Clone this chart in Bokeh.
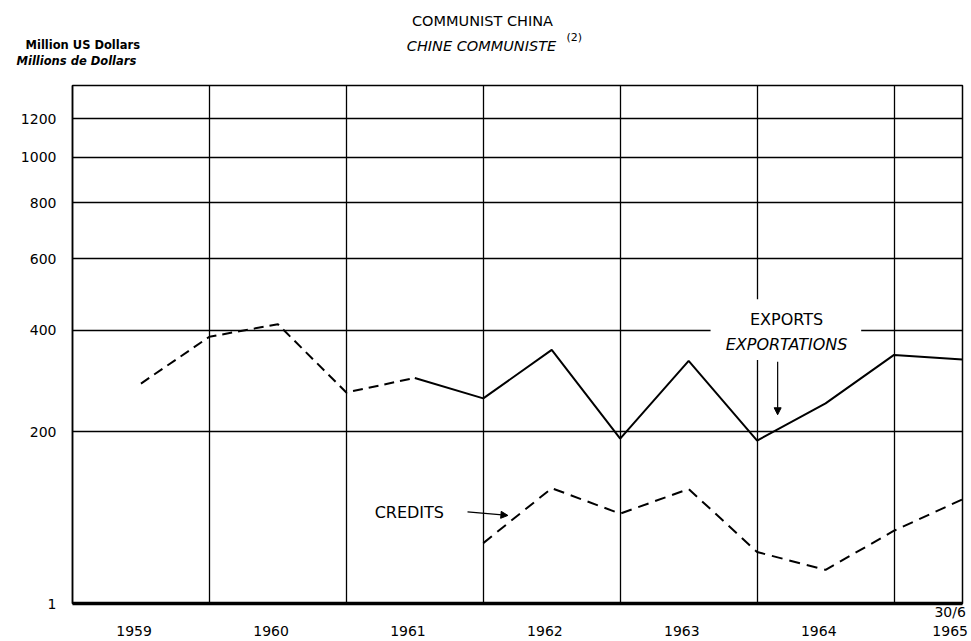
from bokeh.plotting import figure
from bokeh.layouts import column
from bokeh.models import Range1d, FixedTicker, Label, Arrow, NormalHead, BoxAnnotation
from bokeh.embed import file_html
from bokeh.resources import INLINE

OFFSET = 200  # value axis is drawn on log10(value + 200)

x_exports = [1959.5, 1960.0, 1960.5, 1961.0, 1961.5, 1962.0, 1962.5,
             1963.0, 1963.5, 1964.0, 1964.5, 1965.0, 1965.5]
exports = [285, 385, 415, 268, 296, 257, 355, 189, 331, 186, 248, 344, 334]
n_dashed = 5

x_credits = [1962.0, 1962.5, 1963.0, 1963.5, 1964.0, 1964.5, 1965.0, 1965.5]
credits = [56, 119, 88, 118, 47, 30, 69, 105]

y_ticks = [1, 200, 400, 600, 800, 1000, 1200]
year_labels = ["\n1959", "\n1960", "\n1961", "\n1962", "\n1963", "\n1964", "30/6\n1965"]
year_label_pos = [1959.45, 1960.45, 1961.45, 1962.45, 1963.45, 1964.45, 1965.41]
grid_years = [1960, 1961, 1962, 1963, 1964, 1965]

FONT = "DejaVu Sans"
W = 968
HEAD_H = 77
TOTAL_H = 641

# ---------- header (titles) ----------
h = figure(width=W, height=HEAD_H, x_range=Range1d(0, W), y_range=Range1d(HEAD_H, 0),
           output_backend="svg", toolbar_location=None,
           x_axis_location=None, y_axis_location=None,
           min_border_left=0, min_border_right=0, min_border_top=0, min_border_bottom=0)
h.outline_line_color = None
h.grid.visible = False
h.background_fill_color = "white"
h.border_fill_color = "white"

def hlabel(x, y, text, size, style="normal", align="left"):
    h.add_layout(Label(x=x, y=y, text=text, text_align=align, text_baseline="middle",
                       text_font=FONT, text_font_size=size, text_font_style=style,
                       text_color="black"))

hlabel(482, 20, "COMMUNIST CHINA", "14.5px", align="center")
hlabel(481, 45, "CHINE COMMUNISTE", "14.5px", style="italic", align="center")
hlabel(566, 37, "(2)", "11px")
hlabel(25, 44, "Million US Dollars", "11.5px", style="bold")
hlabel(16, 60, "Millions de Dollars", "11.5px", style="bold italic")

# ---------- main chart ----------
p = figure(width=W, height=TOTAL_H - HEAD_H,
           x_range=Range1d(1959.0, 1965.5),
           y_range=Range1d(1 + OFFSET, 1400 + OFFSET),
           y_axis_type="log",
           output_backend="svg", toolbar_location=None,
           min_border_left=72, min_border_right=6,
           min_border_top=8, min_border_bottom=38)

# keep the header's frame independent of the chart's frame
for fig in (h, p):
    if "frame_align" in fig.properties():
        fig.frame_align = False

p.background_fill_color = "white"
p.border_fill_color = "white"
p.outline_line_color = "black"
p.outline_line_width = 1.5

p.yaxis.ticker = FixedTicker(ticks=[t + OFFSET for t in y_ticks])
p.yaxis.major_label_overrides = {t + OFFSET: f"{t}" for t in y_ticks}
p.yaxis.major_tick_line_color = None
p.yaxis.minor_tick_line_color = None
p.yaxis.major_tick_out = 0
p.yaxis.major_label_standoff = 16
p.yaxis.axis_line_color = "black"
p.yaxis.axis_line_width = 1.5
p.yaxis.major_label_text_font = FONT
p.yaxis.major_label_text_font_size = "14px"
p.yaxis.major_label_text_color = "black"

p.xaxis.ticker = FixedTicker(ticks=year_label_pos)
p.xaxis.major_label_overrides = {pos: lab for pos, lab in zip(year_label_pos, year_labels)}
p.xaxis.major_tick_line_color = None
p.xaxis.minor_tick_line_color = None
p.xaxis.major_tick_out = 0
p.xaxis.major_label_standoff = 0
p.xaxis.axis_line_color = "black"
p.xaxis.axis_line_width = 3.5
p.xaxis.major_label_text_font = FONT
p.xaxis.major_label_text_font_size = "14px"
p.xaxis.major_label_text_color = "black"

p.xgrid.ticker = FixedTicker(ticks=grid_years)
p.xgrid.grid_line_color = "black"
p.xgrid.grid_line_width = 1.3
p.xgrid.grid_line_alpha = 1
p.ygrid.grid_line_color = "black"
p.ygrid.grid_line_width = 1.3
p.ygrid.grid_line_alpha = 1

p.add_layout(BoxAnnotation(left=1963.66, right=1964.76,
                           bottom=333 + OFFSET, top=480 + OFFSET,
                           fill_color="white", fill_alpha=1,
                           line_color=None, level="underlay"))

ex_y = [v + OFFSET for v in exports]
cr_y = [v + OFFSET for v in credits]
p.line(x_exports[:n_dashed], ex_y[:n_dashed], line_color="black",
       line_width=2, line_dash="10 6")
p.line(x_exports[n_dashed - 1:], ex_y[n_dashed - 1:], line_color="black",
       line_width=2)
p.line(x_credits, cr_y, line_color="black", line_width=2, line_dash="11 7")

def plabel(x, y, text, style="normal"):
    p.add_layout(Label(x=x, y=y + OFFSET, text=text, text_align="center",
                       text_baseline="middle", text_font=FONT, text_font_size="16px",
                       text_font_style=style, text_color="black"))

plabel(1961.46, 89, "CREDITS")
plabel(1964.215, 428, "EXPORTS")
plabel(1964.215, 366, "EXPORTATIONS", style="italic")
p.add_layout(Arrow(end=NormalHead(size=7, fill_color="black", line_color="black"),
                   x_start=1961.885, y_start=90 + OFFSET,
                   x_end=1962.18, y_end=86 + OFFSET,
                   line_width=1.2, line_color="black"))
p.add_layout(Arrow(end=NormalHead(size=7, fill_color="black", line_color="black"),
                   x_start=1964.15, y_start=329 + OFFSET,
                   x_end=1964.15, y_end=228 + OFFSET,
                   line_width=1.2, line_color="black"))

layout = column(h, p, spacing=0)
open("out.html", "w").write(file_html(layout, INLINE))
